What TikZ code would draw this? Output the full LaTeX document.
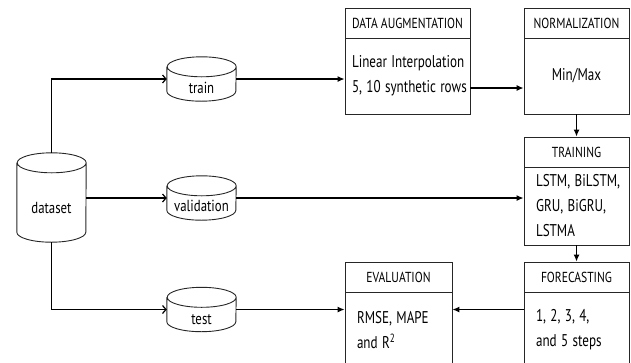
\documentclass[tikz,border=0pt]{standalone}
\usepackage{fontspec}
\setmainfont{PT Sans}
\usetikzlibrary{arrows.meta}
\newcommand\cz[1]{\scalebox{0.8}[1]{#1}}
\newcommand\cb[1]{\scalebox{0.77}[1]{#1}}
\tikzset{
  cylnode/.style={draw=none, minimum width=69pt, inner sep=0pt},
  cyltext/.style={font=\fontsize{16}{20}\selectfont, inner sep=0pt},
  cylline/.style={draw=black!85, line width=0.9pt},
  hdr/.style={draw=black!85, line width=0.9pt, minimum height=30pt, inner sep=0pt, font=\fontsize{14.5}{16}\selectfont},
  bodybox/.style={draw=black!85, line width=0.9pt, inner ysep=0pt, font=\fontsize{17}{25}\selectfont, align=left},
  conn/.style={line width=1.2pt, -{Latex[length=7pt,width=6pt]}},
  connc/.style={line width=1.2pt, -{Straight Barb[length=3.5pt,width=8pt]}}
}
\newcommand\drawcyl[1]{%
  \draw[cylline] ([yshift=-10pt]#1.north west) -- ([yshift=10pt]#1.south west)
    arc[start angle=180,end angle=360,x radius=34.5pt,y radius=10pt]
    -- ([yshift=-10pt]#1.north east)
    arc[start angle=0,end angle=360,x radius=34.5pt,y radius=10pt];}
\begin{document}
\begin{tikzpicture}[x=1pt,y=1pt]
\useasboundingbox (0,0) rectangle (631,-362);
% cylinders
\node[cylnode, minimum height=89pt, label={[cyltext,name=datasetT,yshift=-10pt]center:\cz{dataset}}] (dataset) at (51.5,-197.5) {};
\node[cylnode, minimum height=44pt, label={[cyltext,name=trainT,yshift=-9pt]center:\cz{train}}] (train) at (201.5,-79) {};
\node[cylnode, minimum height=44pt, label={[cyltext,name=validationT,yshift=-8pt]center:\cz{validation}}] (validation) at (201.5,-198) {};
\node[cylnode, minimum height=44pt, label={[cyltext,name=testT,yshift=-10pt]center:\cz{test}}] (test) at (201.5,-309.5) {};
\drawcyl{dataset}
\drawcyl{train}
\drawcyl{validation}
\drawcyl{test}
% boxes
\node[hdr, minimum width=125pt] (augH) at (407.5,-23) {\cz{DATA AUGMENTATION}};
\node[bodybox, minimum height=76pt, inner xsep=7pt, text width=111pt] (aug) at (407.5,-76) {\cb{Linear Interpolation}\\\cb{5, 10 synthetic rows}};
\node[hdr, minimum width=105pt] (normH) at (576.5,-23) {\cz{NORMALIZATION}};
\node[bodybox, minimum height=76pt, inner xsep=6pt, text width=93pt, align=center] (norm) at (576.5,-76) {\cb{Min/Max}};
\node[hdr, minimum width=105pt] (trainingH) at (576.5,-152) {\cz{TRAINING}};
\node[bodybox, minimum height=78pt, inner xsep=12pt, text width=81pt] (training) at (576.5,-206) {\cb{LSTM, BiLSTM,}\\\cb{GRU, BiGRU,}\\\cb{LSTMA}};
\node[hdr, minimum width=105pt] (foreH) at (576.5,-277) {\cz{FORECASTING}};
\node[bodybox, minimum height=76pt, inner xsep=12pt, text width=81pt] (fore) at (576.5,-330) {\cb{1, 2, 3, 4,}\\\cb{and 5 steps}};
\node[hdr, minimum width=107pt] (evalH) at (398.5,-277) {\cz{EVALUATION}};
\node[bodybox, minimum height=76pt, inner xsep=12pt, text width=83pt] (eval) at (398.5,-330) {\cb{RMSE, MAPE}\\\cb{and R\textsuperscript{2}}};
% connectors
\draw[connc] (dataset.north) |- (train.west);
\draw[connc] (dataset.east |- validation.west) -- (validation.west);
\draw[connc] (dataset.south) |- (test.west);
\draw[conn] (train.east) -- (train.east -| aug.west);
\coordinate (augout) at ([yshift=-12pt]aug.east);
\draw[conn] (augout) -- (augout -| norm.west);
\draw[conn] (norm.south) -- (trainingH.north);
\draw[conn] (validation.east) -- (validation.east -| training.west);
\draw[conn] (training.south) -- (foreH.north);
\coordinate (foreout) at (fore.west |- test.east);
\draw[conn] (foreout) -- (foreout -| eval.east);
\draw[conn] (test.east) -- (test.east -| eval.west);
\end{tikzpicture}
\end{document}
